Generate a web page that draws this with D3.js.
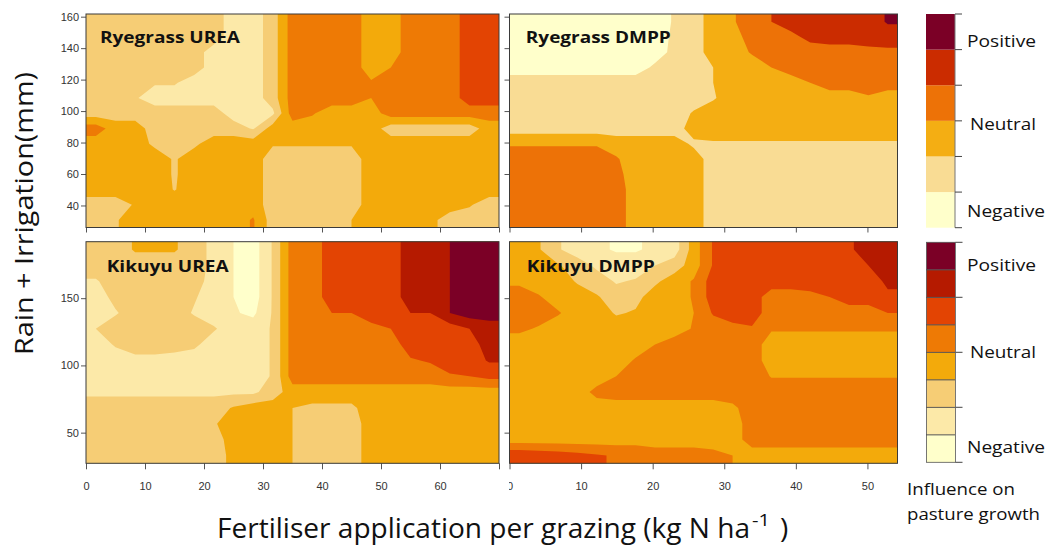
<!DOCTYPE html>
<html>
<head>
<meta charset="utf-8">
<script src="https://cdn.jsdelivr.net/npm/d3@7"></script>
<style>
  html, body { margin: 0; padding: 0; background: #fff; }
  svg { display: block; }
  .tick text { font-family: "Liberation Sans", Arial, sans-serif; font-size: 11px; fill: #333; }
  .tick line { stroke: #555; }
  .label { font-family: "Open Sans", "Noto Sans", sans-serif; fill: #111; }
</style>
</head>
<body>
<svg id="chart" width="1050" height="545"></svg>
<script>
// colour steps, palest (negative) first
const paletteEight = ['#ffffcb', '#fce9a8', '#f6cd75', '#f3aa0b', '#ee7a05', '#e34403', '#b51a00', '#7b0026'];
const paletteSix = ['#ffffcb', '#f9dc94', '#f4ae13', '#ed7207', '#cb2c00', '#7b0026'];

// axis extents, data units
const xDomainUrea = [0, 70];
const xDomainDmpp = [0, 54.2];
const yDomainRyegrass = [26, 161.7];
const yDomainKikuyu = [27.2, 192];

const xTicksUrea = [0, 10, 20, 30, 40, 50, 60, 70];
const xTicksDmpp = [0, 10, 20, 30, 40, 50];
const yTicksRyegrass = [40, 60, 80, 100, 120, 140, 160];
const yTicksKikuyu = [50, 100, 150];

const legendLabels = ['Positive', 'Neutral', 'Negative'];

// influence level per grid cell
// rows: wettest (top) to driest (bottom); columns: low N to high N
const ryegrassUrea = [
  [2,2,2,2,2,2,2,1,1,2,4,4,4,4,3,3,4,4,4,5,5],
  [2,2,2,2,2,2,2,1,1,2,4,4,4,4,3,3,4,4,4,5,5],
  [2,2,2,2,2,2,1,1,1,2,4,4,4,4,3,3,4,4,4,5,5],
  [2,2,2,2,2,2,1,1,1,2,4,4,4,4,3,3.5,4,4,4,5,5],
  [2,2,2,1.6,1.6,1,1,1,1,2,4,4,4,4,3.6,4,4,4,4,5,5],
  [2,2,1.6,1,1,1,1,1,1,2,4,4,4,4,3.5,4,4,4,4,5,5],
  [2,2,2,2,2,2,2,1,1,1.3,4,3.6,3,3,3,4,4,4,4,4,4],
  [4,3,3,2,2,2,2,2,1.4,3,3,3,3,3,3,2,2,2,2,2,3],
  [3,3,3,2.3,2,2.3,3,3,3,2.6,2.6,2.6,2.6,2.6,3,3,3,3,3,3,3],
  [3,3,3,3,2.4,3,3,3,3,2,2,2,2,2,3,3,3,3,3,3,3],
  [3,3,3,3,2.4,3,3,3,3,2,2,2,2,2,3,3,3,3,3,3,3],
  [3,3,3,3,2.45,3,3,3,3,2,2,2,2,2,3,3,3,3,3,3,3],
  [2,2,2.6,3,3,3,3,3,3,2,2,2,2,2,3,3,3,3,3,2.6,2],
  [2,2.4,3,3,3,3,3,3,3.6,2,2,2,2,2.5,3,3,3,2.8,2,2,2]
];

const ryegrassDmpp = [
  [0,0,0,0,0,0,0,0,0.6,1,2,2.4,3,3.5,4,4,4,4,4,4.6],
  [0,0,0,0,0,0,0,0,0.7,1,2,2,3,3,3.2,3.8,4,4,4,4],
  [0,0,0,0,0,0,0,0,0.8,1,2,2,2.6,3,3,3,3,3,3.2,3.3],
  [0,0,0,0,0,0,0,0.7,1,1,1.5,2,2,2.5,3,3,3,3,3,3],
  [1,1,1,1,1,1,1,1,1,1,1.5,2,2,2,2,2.5,3,3,3,3],
  [1,1,1,1,1,1,1,1,1,1,1.4,2,2,2,2,2,2,2,2.4,2],
  [1,1,1,1,1,1,1,1,1,1.6,2,2,2,2,2,2,2,2,2,2],
  [1,1,1,1,1,1,1,1,1,2,2,2,2,2,2,2,2,2,2,2],
  [2.4,2.4,2.4,2.4,2.4,2,2,2,2,1.3,1.4,1.4,1.4,1.4,1.4,1.4,1.4,1.4,1.4,1.4],
  [3,3,3,3,3,2.6,2,2,2,2,1,1,1,1,1,1,1,1,1,1],
  [3,3,3,3,3,2.8,2,2,2,2,1,1,1,1,1,1,1,1,1,1],
  [3,3,3,3,3,3,2,2,2,2,1,1,1,1,1,1,1,1,1,1],
  [3,3,3,3,3,3,2,2,2,2,1,1,1,1,1,1,1,1,1,1],
  [3,3,3,3,3,3,2,2,2,2,1,1,1,1,1,1,1,1,1,1]
];

const kikuyuUrea = [
  [2,2,2.6,2.6,2.6,2,1.2,0.5,0,1.6,4,4,5,5,5,5,6,6,6.5,7,7],
  [2,2,2,2,2,2,1.2,0.5,0,1.6,4,4,5,5,5,5,6,6,6.5,7,7],
  [1.4,2,2,2,2,2,1,0.5,0,1.6,4,4,5,5,5,5,6,6,6.5,7,7],
  [1,1.8,2,2,2,1.6,1,0.5,0,1.6,4,4,5,5,5,5,6,6,6.5,7,7],
  [1,1.4,2,2,2,1.4,1,0.6,0.3,1.6,4,4,4.5,4.5,5,5,5.5,5.5,6.5,7,7],
  [1.5,2,2,2,2,2,1.6,1,1,1.6,4,4,4,4,4.2,4.5,5,5,5,5.5,6],
  [1,1.6,2,2,2,1.7,1,1,1,1.6,4,4,4,4,4,4,5,5,5,5,6],
  [1,1,1.2,1.2,1,1,1,1,1,1.6,4,4,4,4,4,4,4.4,4.6,5,5,5.6],
  [1,1,1,1,1,1,1,1,1,1.6,4,4,4,4,4,4,4,4,4.4,4.5,4.8],
  [1.3,1.3,1.3,1.3,1.3,1.3,1.3,1.3,1.3,2,3,3,3,3,3,3,3,3,3,3,3],
  [2,2,2,2,2,2,2,2.6,3,3,2.5,2.3,2.3,2.3,3,3,3,3,3,3,3],
  [2,2,2,2,2,2,2.4,3,3,3,2.5,2,2,2,3,3,3,3,3,3,3],
  [2,2,2,2,2,2,2.3,2.7,3,3,2.5,2,2,2,3,3,3,3,3,3,3],
  [2,2,2,2,2,2,2,2.8,3,3,2.5,2,2,2,3,3,3,3,3,3,3]
];

const kikuyuDmpp = [
  [3,2.6,1.6,1,0.7,0.4,0.4,0.7,1,3,4.6,5,5,5,5,5,5,5.4,5.8,6.2],
  [3,3,2.6,2,1.3,1,1,1.5,2,3,4.6,5,5,5,5,5,5,5.2,5.5,6],
  [3.3,3,3,2.4,2,1.4,1.6,2.3,3,3.6,5,5,5,5,5,5,5,5,5,5.7],
  [4,3.6,3,3,2.6,2,2.2,3,3,3.6,5,5,5,4,4,4.2,4.5,5,5,5.3],
  [4,4,3.6,3,3,2.4,2.6,3,3,3.5,4.6,5,5,4,4,4,4,4,4,4.5],
  [3.7,3.4,3,3,3,3,3,3,3,3.6,4,4.2,4.4,3.6,3.6,3.6,3.6,3.6,3.6,3.6],
  [3,3,3,3,3,3,3,3.5,4,4,4,4,4,3,3,3,3,3,3,3],
  [3,3,3,3,3,3,3.6,4,4,4,4,4,4,3,3,3,3,3,3,3],
  [3,3,3,3,3,3.5,4,4,4,4,4,4,4,3.45,3.45,3.45,3.45,3.45,3.45,3.45],
  [3,3,3,3,3.8,4,4,4,4,4,4,4,4,4,4,4,4,4,4,4],
  [3,3,3,3,3,3,3,3,3,3,3,3.3,4,4,4,4,4,4,4,4],
  [3,3,3,3,3,3,3,3,3,3,3,3,4,4,4,4,4,4,4,4],
  [3,3,3,3,3,3,3,3,3,3,3,3,4,4,4,4,4,4,4,4],
  [5.3,5.1,5,4.8,4.6,4.4,4.4,4,4,4,3.8,3.5,3,3,3,3,3,3,3,3]
];

// layout of the four panels (pixel boxes: left, top, right, bottom)
const panels = [
  { title: 'Ryegrass UREA', grid: ryegrassUrea, palette: paletteEight, xDomain: xDomainUrea, yDomain: yDomainRyegrass,
    xTicks: xTicksUrea, yTicks: yTicksRyegrass, box: [86, 14, 499, 227.5], xLabels: false, yLabels: true, titleAt: [100, 43.3, 140] },
  { title: 'Ryegrass DMPP', grid: ryegrassDmpp, palette: paletteSix, xDomain: xDomainDmpp, yDomain: yDomainRyegrass,
    xTicks: xTicksDmpp, yTicks: yTicksRyegrass, box: [509.5, 14, 897.5, 227.5], xLabels: false, yLabels: false, titleAt: [525.8, 43.3, 145] },
  { title: 'Kikuyu UREA', grid: kikuyuUrea, palette: paletteEight, xDomain: xDomainUrea, yDomain: yDomainKikuyu,
    xTicks: xTicksUrea, yTicks: yTicksKikuyu, box: [86, 241.7, 499, 463.3], xLabels: true, yLabels: true, titleAt: [106.7, 271.7, 122] },
  { title: 'Kikuyu DMPP', grid: kikuyuDmpp, palette: paletteEight, xDomain: xDomainDmpp, yDomain: yDomainKikuyu,
    xTicks: xTicksDmpp, yTicks: yTicksKikuyu, box: [509.5, 241.7, 897.5, 463.3], xLabels: true, yLabels: false, titleAt: [526.8, 271.7, 128] }
];

const svg = d3.select('#chart');
const defs = svg.append('defs');

defs.append('clipPath').attr('id', 'right-half')
  .append('rect').attr('x', 509).attr('y', 0).attr('width', 541).attr('height', 545);

function drawPanel(p, i) {
  const [left, top, right, bottom] = p.box;
  const x = d3.scaleLinear().domain(p.xDomain).range([left, right]);
  const y = d3.scaleLinear().domain(p.yDomain).range([bottom, top]);

  // repeat the edge cells once all round so the bands run square into the frame
  const rows = p.grid.length, cols = p.grid[0].length;
  const padded = [p.grid[0], ...p.grid, p.grid[rows - 1]].map(r => [r[0], ...r, r[r.length - 1]]);

  // grid cell coordinates -> data units
  const gx = d3.scaleLinear().domain([1, cols + 1]).range(p.xDomain);
  const gy = d3.scaleLinear().domain([1, rows + 1]).range([p.yDomain[1], p.yDomain[0]]);

  const thresholds = p.palette.map((c, k) => k === 0 ? -1 : k - 0.5);
  const bands = d3.contours().size([cols + 2, rows + 2]).thresholds(thresholds)(padded.flat());

  const toScreen = d3.geoTransform({
    point(px, py) { this.stream.point(x(gx(px)), y(gy(py))); }
  });
  const path = d3.geoPath(toScreen);

  const clipId = 'panel-clip-' + i;
  defs.append('clipPath').attr('id', clipId)
    .append('rect').attr('x', left).attr('y', top).attr('width', right - left).attr('height', bottom - top);

  const g = svg.append('g').attr('class', 'panel').attr('clip-path', `url(#${clipId})`);
  g.selectAll('path')
    .data(bands)
    .join('path')
    .attr('d', path)
    .attr('fill', (d, k) => p.palette[k]);

  // axes
  const yAxis = d3.axisLeft(y).tickValues(p.yTicks).tickSize(5).tickPadding(2);
  if (!p.yLabels) yAxis.tickFormat('');
  svg.append('g').attr('transform', `translate(${left},0)`).call(yAxis)
    .call(a => a.select('.domain').remove());

  const xAxis = d3.axisBottom(x).tickValues(p.xTicks).tickSize(p.xLabels ? 6 : 5).tickPadding(13);
  if (!p.xLabels) xAxis.tickFormat('');
  else xAxis.tickFormat(d => d === 70 ? '' : d);
  const xa = svg.append('g').attr('transform', `translate(0,${bottom})`).call(xAxis)
    .call(a => a.select('.domain').remove());
  if (p.xLabels && i === 3) xa.attr('clip-path', 'url(#right-half)');

  // frame
  svg.append('rect')
    .attr('x', left).attr('y', top)
    .attr('width', right - left).attr('height', bottom - top)
    .attr('fill', 'none').attr('stroke', '#3a3a3a').attr('stroke-width', 1);

  const [tx, ty, tw] = p.titleAt;
  svg.append('text').attr('class', 'label')
    .attr('x', tx).attr('y', ty)
    .attr('textLength', tw).attr('lengthAdjust', 'spacingAndGlyphs')
    .style('font-size', '16px').style('font-weight', 700)
    .text(p.title);
}

panels.forEach(drawPanel);

// legends
function drawLegend(palette, x0, x1, yTop, yBottom, tickEvery, labelYs) {
  const ly = d3.scaleLinear().domain([0, palette.length]).range([yBottom, yTop]);
  const g = svg.append('g').attr('class', 'legend');
  g.selectAll('rect')
    .data(palette)
    .join('rect')
    .attr('x', x0).attr('width', x1 - x0)
    .attr('y', (d, k) => ly(k + 1)).attr('height', (d, k) => ly(k) - ly(k + 1))
    .attr('fill', d => d)
    .attr('stroke', tickEvery === 1 ? 'none' : '#555').attr('stroke-width', 0.8);
  g.append('line').attr('x1', x1).attr('x2', x1).attr('y1', yTop).attr('y2', yBottom)
    .attr('stroke', '#777');
  const edges = d3.range(0, palette.length + 1, tickEvery);
  g.selectAll('line.tk')
    .data(edges)
    .join('line').attr('class', 'tk')
    .attr('x1', x1).attr('x2', x1 + 7)
    .attr('y1', d => ly(d)).attr('y2', d => ly(d))
    .attr('stroke', '#444');
  const widths = [69, 66, 78];
  const xs = [967, 970, 967];
  g.selectAll('text')
    .data(legendLabels)
    .join('text').attr('class', 'label')
    .attr('x', (d, k) => xs[k]).attr('y', (d, k) => labelYs[k])
    .attr('textLength', (d, k) => widths[k]).attr('lengthAdjust', 'spacingAndGlyphs')
    .style('font-size', '16px')
    .text(d => d);
}

drawLegend(paletteSix, 926, 955, 14, 227.7, 1, [46.7, 130, 216.7]);
drawLegend(paletteEight, 926.5, 955.5, 242.3, 462.3, 2, [270.7, 358.3, 452.7]);

svg.append('text').attr('class', 'label')
  .attr('x', 907).attr('y', 495)
  .attr('textLength', 108).attr('lengthAdjust', 'spacingAndGlyphs')
  .style('font-size', '17px').text('Influence on');
svg.append('text').attr('class', 'label')
  .attr('x', 907).attr('y', 520)
  .attr('textLength', 133).attr('lengthAdjust', 'spacingAndGlyphs')
  .style('font-size', '17px').text('pasture growth');

// axis titles
svg.append('text').attr('class', 'label')
  .attr('transform', 'translate(33,213.5) rotate(-90)')
  .attr('text-anchor', 'middle')
  .attr('textLength', 283).attr('lengthAdjust', 'spacingAndGlyphs')
  .style('font-size', '26px')
  .text('Rain + Irrigation(mm)');

svg.append('text').attr('class', 'label')
  .attr('x', 217).attr('y', 538)
  .attr('textLength', 533).attr('lengthAdjust', 'spacingAndGlyphs')
  .style('font-size', '28px')
  .text('Fertiliser application per grazing (kg N ha');
svg.append('text').attr('class', 'label')
  .attr('x', 752).attr('y', 526)
  .attr('textLength', 18).attr('lengthAdjust', 'spacingAndGlyphs')
  .style('font-size', '17px')
  .text('-1');
svg.append('text').attr('class', 'label')
  .attr('x', 780).attr('y', 538)
  .style('font-size', '28px')
  .text(')');
</script>
</body>
</html>
